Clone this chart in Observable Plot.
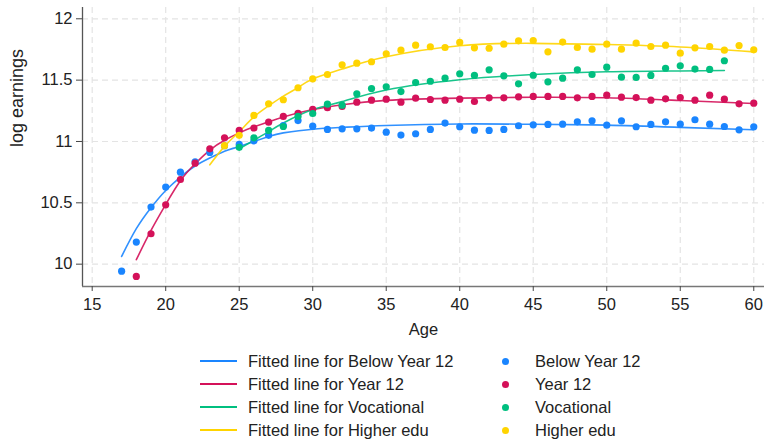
<!DOCTYPE html>
<html>
<head>
<meta charset="utf-8">
<script src="https://cdn.jsdelivr.net/npm/d3@7"></script>
<script src="https://cdn.jsdelivr.net/npm/@observablehq/plot@0.6"></script>
<style>
  body { margin: 0; background: #fff; }
  #chart { position: relative; width: 764px; height: 440px; font-family: "Liberation Sans", Arial, Helvetica, sans-serif; color: #222; }
  #legend { position: absolute; left: 0; top: 345px; width: 764px; height: 95px; }
  .item { position: absolute; height: 22px; display: flex; align-items: center; font-size: 16.5px; white-space: nowrap; }
  .swatch-line { position: absolute; width: 37px; height: 2px; }
  .swatch-dot { position: absolute; width: 7px; height: 7px; border-radius: 50%; }
</style>
</head>
<body>
<div id="chart"></div>
<script>
// Education groups and their colours
const groups = ["Below Year 12", "Year 12", "Vocational", "Higher edu"];
const colors = ["#1a85ff", "#d41159", "#00bf7f", "#ffd400"];

// Mean log earnings by age, one array per group (ages start at the given first age)
const belowFirstAge = 17;
const belowValues = [9.943, 10.18, 10.465, 10.628, 10.75, 10.834, 10.91, 10.965, 10.976, 11.005,
  11.05, 11.13, 11.17, 11.125, 11.098, 11.103, 11.103, 11.109, 11.076, 11.052,
  11.063, 11.098, 11.15, 11.12, 11.092, 11.09, 11.098, 11.128, 11.136, 11.139,
  11.141, 11.16, 11.168, 11.133, 11.168, 11.12, 11.139, 11.16, 11.141, 11.177,
  11.141, 11.122, 11.095, 11.12];

const year12FirstAge = 18;
const year12Values = [9.9, 10.248, 10.484, 10.69, 10.823, 10.94, 11.03, 11.09, 11.11, 11.157,
  11.204, 11.23, 11.262, 11.275, 11.285, 11.32, 11.337, 11.345, 11.32, 11.353,
  11.342, 11.337, 11.345, 11.326, 11.356, 11.356, 11.364, 11.367, 11.367, 11.367,
  11.356, 11.367, 11.377, 11.361, 11.358, 11.337, 11.348, 11.358, 11.337, 11.377,
  11.345, 11.307, 11.312, 11.288];

const vocFirstAge = 25;
const vocValues = [10.952, 11.03, 11.09, 11.122, 11.204, 11.228, 11.304, 11.296, 11.389, 11.432,
  11.446, 11.407, 11.48, 11.491, 11.516, 11.552, 11.538, 11.584, 11.535, 11.47,
  11.54, 11.486, 11.516, 11.584, 11.546, 11.606, 11.524, 11.522, 11.538, 11.597,
  11.617, 11.59, 11.587, 11.658];

const higherFirstAge = 24;
const higherValues = [10.966, 11.05, 11.212, 11.307, 11.34, 11.438, 11.511, 11.546, 11.625, 11.638,
  11.65, 11.715, 11.744, 11.785, 11.772, 11.766, 11.807, 11.763, 11.76, 11.793,
  11.82, 11.823, 11.731, 11.81, 11.766, 11.752, 11.793, 11.752, 11.801, 11.774,
  11.785, 11.72, 11.763, 11.774, 11.744, 11.782, 11.747];

// Fitted curves, sampled at selected ages
const belowFitAges = [17, 18, 19, 20, 21, 22, 23, 24, 25, 27, 28, 30, 32, 35, 40, 45, 50, 55, 60];
const belowFitValues = [10.063, 10.289, 10.46, 10.6, 10.71, 10.8, 10.865, 10.92, 10.96, 11.04, 11.07, 11.1, 11.115, 11.13, 11.143, 11.14, 11.133, 11.115, 11.095];

const year12FitAges = [18, 19, 20, 21, 22, 23, 24, 25, 26, 27, 28, 30, 32, 35, 40, 45, 50, 55, 60];
const year12FitValues = [10.036, 10.275, 10.487, 10.68, 10.818, 10.93, 11.01, 11.07, 11.12, 11.16, 11.2, 11.26, 11.3, 11.335, 11.353, 11.36, 11.356, 11.334, 11.31];

const vocFitAges = [25, 26, 27, 28, 30, 32, 35, 40, 45, 50, 55, 58];
const vocFitValues = [10.94, 11.01, 11.08, 11.15, 11.26, 11.325, 11.42, 11.503, 11.546, 11.568, 11.575, 11.579];

const higherFitAges = [23, 24, 25, 26, 27, 28, 29, 30, 32, 35, 40, 45, 50, 55, 60];
const higherFitValues = [10.81, 10.96, 11.08, 11.2, 11.29, 11.37, 11.44, 11.51, 11.59, 11.69, 11.78, 11.8, 11.79, 11.77, 11.73];

// Axis ticks and titles
const xTicks = [15, 20, 25, 30, 35, 40, 45, 50, 55, 60];
const yTicks = [10, 10.5, 11, 11.5, 12];
const xTitle = "Age";
const yTitle = "log earnings";

// Build tidy tables for Plot
const pointSets = [
  [belowFirstAge, belowValues], [year12FirstAge, year12Values],
  [vocFirstAge, vocValues], [higherFirstAge, higherValues]
];
const points = pointSets.flatMap(([first, vals], g) =>
  vals.map((v, i) => ({group: groups[g], age: first + i, value: v})));

const fitSets = [
  [belowFitAges, belowFitValues], [year12FitAges, year12FitValues],
  [vocFitAges, vocFitValues], [higherFitAges, higherFitValues]
];
const fits = fitSets.flatMap(([ages, vals], g) =>
  ages.map((a, i) => ({group: groups[g], age: a, value: vals[i]})));

const xDomain = [14.34, 60.73];
const yDomain = [9.818, 12.092];
const font = '"Liberation Sans", Arial, Helvetica, sans-serif';
const gridStyle = {stroke: "#e4e4e4", strokeOpacity: 1, strokeWidth: 1.2, strokeDasharray: "6,4"};

const chart = Plot.plot({
  width: 764,
  height: 345,
  marginLeft: 82,
  marginRight: 0,
  marginTop: 7,
  marginBottom: 59,
  style: {fontFamily: font, fontSize: "16.5px", color: "#222", background: "#fff"},
  x: {domain: xDomain},
  y: {domain: yDomain},
  color: {domain: groups, range: colors},
  marks: [
    Plot.gridX(xTicks, gridStyle),
    Plot.gridY(yTicks, gridStyle),
    Plot.ruleX([xDomain[0]], {stroke: "#555", strokeWidth: 1.3}),
    Plot.ruleY([yDomain[0]], {stroke: "#777", strokeWidth: 1.6}),
    Plot.axisX(xTicks, {tickSize: 5, tickPadding: 7, stroke: "#444", tickFormat: d3.format("~g"),
      label: xTitle, labelAnchor: "center", labelOffset: 48, labelArrow: "none"}),
    Plot.axisY(yTicks, {tickSize: 6, tickPadding: 4, stroke: "#444", tickFormat: d3.format("~g"), label: null}),
    Plot.text([yTitle], {frameAnchor: "left", dx: -65, rotate: -90, fontSize: 18, fill: "#222"}),
    Plot.line(fits, {x: "age", y: "value", z: "group", stroke: "group", strokeWidth: 1.6, curve: "natural", strokeOpacity: 0.9}),
    Plot.dot(points, {x: "age", y: "value", fill: "group", r: 3.6})
  ]
});

const root = document.getElementById("chart");
root.appendChild(chart);

// Two-column legend below the chart: fitted lines on the left, markers on the right
const legend = document.createElement("div");
legend.id = "legend";
groups.forEach((g, i) => {
  const top = 5 + i * 23;
  const line = document.createElement("div");
  line.className = "swatch-line";
  line.style.left = "200px";
  line.style.top = (top + 10) + "px";
  line.style.background = colors[i];
  legend.appendChild(line);

  const t1 = document.createElement("div");
  t1.className = "item";
  t1.style.left = "248px";
  t1.style.top = top + "px";
  t1.textContent = "Fitted line for " + g;
  legend.appendChild(t1);

  const dot = document.createElement("div");
  dot.className = "swatch-dot";
  dot.style.left = "502px";
  dot.style.top = (top + 7.5) + "px";
  dot.style.background = colors[i];
  legend.appendChild(dot);

  const t2 = document.createElement("div");
  t2.className = "item";
  t2.style.left = "535px";
  t2.style.top = top + "px";
  t2.textContent = g;
  legend.appendChild(t2);
});
root.appendChild(legend);
</script>
</body>
</html>
